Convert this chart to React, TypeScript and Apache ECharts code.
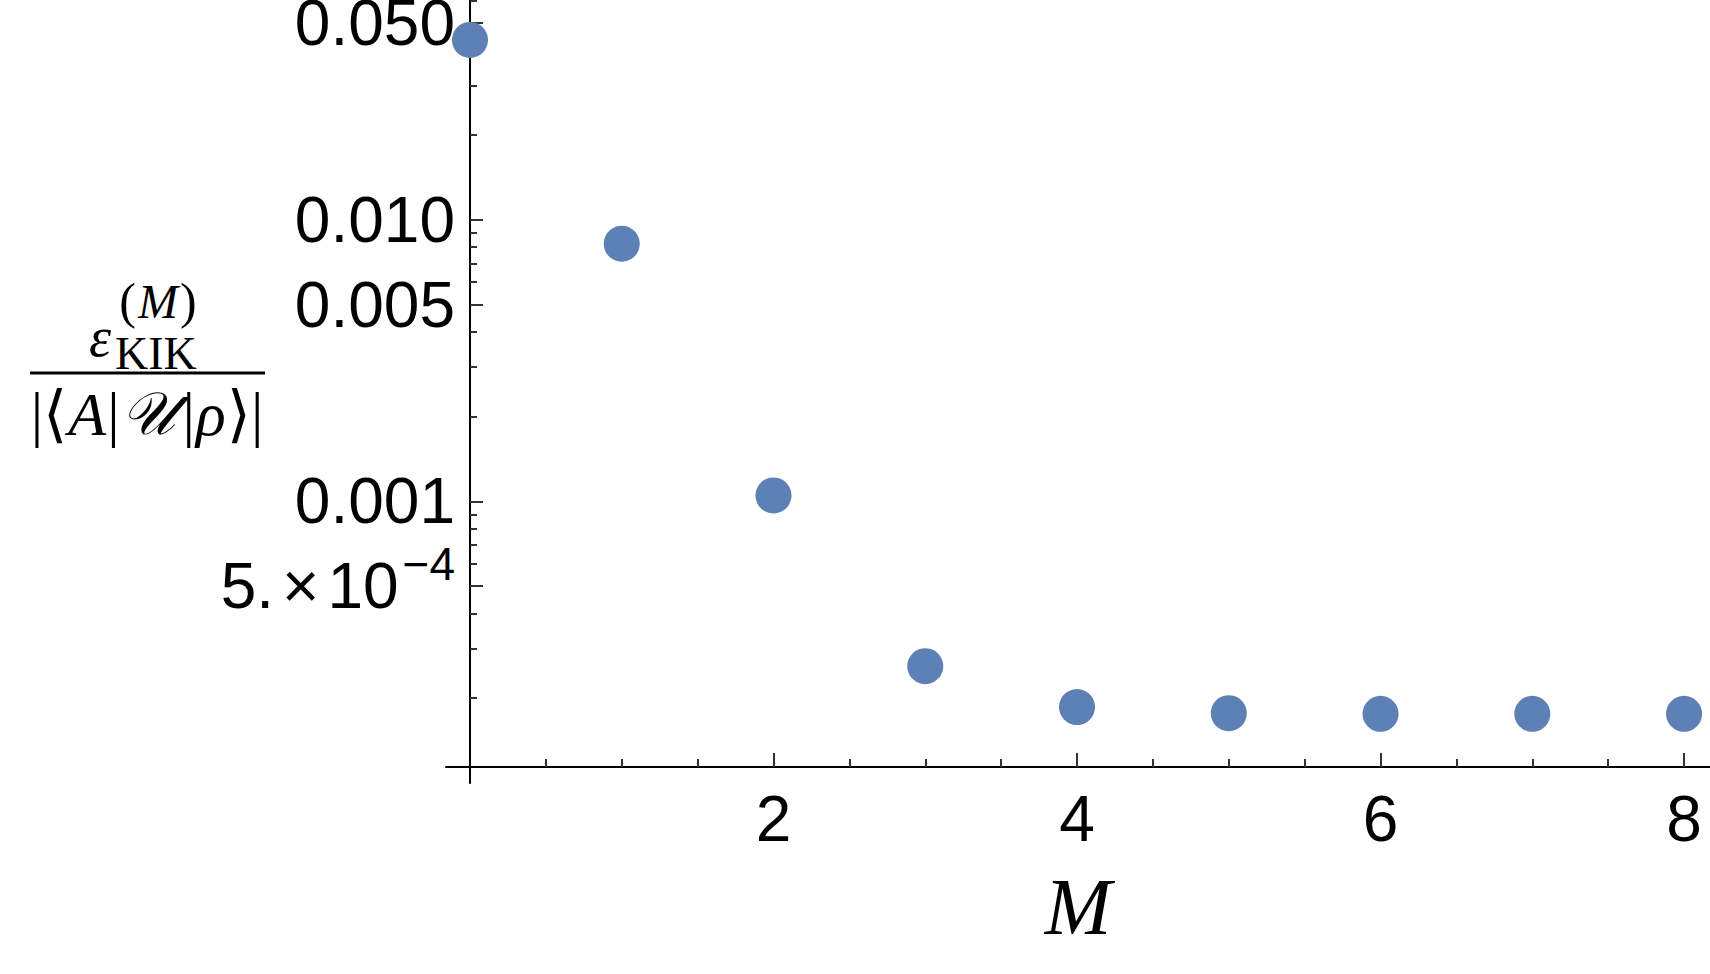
import React, { useEffect, useRef } from "react";
import * as echarts from "echarts";

// ---- data ----
const M_VALUES = [0, 1, 2, 3, 4, 5, 6, 7, 8];
const RATIO_VALUES = [0.0435, 0.00822, 0.00105, 2.6e-4, 1.86e-4, 1.77e-4, 1.76e-4, 1.76e-4, 1.76e-4];

// ---- ticks ----
const X_MAJOR = [2, 4, 6, 8];
const X_MINOR = [0.5, 1, 1.5, 2.5, 3, 3.5, 4.5, 5, 5.5, 6.5, 7, 7.5];
const Y_MAJOR = [5e-4, 0.001, 0.005, 0.01, 0.05];
const Y_MAJOR_LABELS = ["5.×10^-4", "0.001", "0.005", "0.010", "0.050"];
const Y_MINOR = [
  2e-4, 3e-4, 4e-4, 6e-4, 7e-4, 8e-4, 9e-4,
  0.002, 0.003, 0.004, 0.006, 0.007, 0.008, 0.009,
  0.02, 0.03, 0.04, 0.06,
];
const X_RANGE = [-0.158, 8.171];
const Y_RANGE = [1e-4, 0.0603];

const SANS = '"Liberation Sans", Arial, Helvetica, sans-serif';
const SERIF = '"Liberation Serif", "DejaVu Serif", "Times New Roman", serif';

export default function App() {
  const ref = useRef<HTMLDivElement>(null);

  useEffect(() => {
    if (!ref.current) return;
    const chart = echarts.init(ref.current, null, { renderer: "svg" });

    const yFormatter = (value: number) => {
      const i = Y_MAJOR.findIndex((v) => Math.abs(v - value) / v < 1e-6);
      if (i < 0) return "";
      const lab = Y_MAJOR_LABELS[i];
      if (lab.includes("^")) {
        const [base, exp] = lab.split("^");
        const [m, t] = base.split("×");
        return `{a|${m}}{x|×}{a|${t}}{s|${exp.replace("-", "−")}}`;
      }
      return lab;
    };

    const tickLine = { color: "#333", width: 2 };
    const axisLine = { color: "#000", width: 2 };

    const option: any = {
      animation: false,
      backgroundColor: "#ffffff",
      grid: { left: 446, right: 0, top: 0, bottom: 191, containLabel: false, outerBoundsMode: "none" },
      xAxis: [
        {
          type: "value",
          position: "bottom",
          min: X_RANGE[0],
          max: X_RANGE[1],
          offset: -16,
          axisLine: { show: true, onZero: false, lineStyle: axisLine },
          axisTick: { show: true, inside: true, length: 14, lineStyle: tickLine, customValues: X_MAJOR },
          axisLabel: {
            show: true,
            customValues: X_MAJOR,
            margin: 20,
            fontSize: 64,
            fontFamily: SANS,
            color: "#000",
          },
          splitLine: { show: false },
          name: "M",
          nameLocation: "middle",
          nameGap: 100,
          nameTextStyle: { fontFamily: SERIF, fontStyle: "italic", fontSize: 80, color: "#000" },
        },
        {
          type: "value",
          position: "bottom",
          min: X_RANGE[0],
          max: X_RANGE[1],
          offset: -16,
          axisLine: { show: false, onZero: false },
          axisTick: { show: true, inside: true, length: 8, lineStyle: tickLine, customValues: X_MINOR },
          axisLabel: { show: false },
          splitLine: { show: false },
        },
      ],
      yAxis: [
        {
          type: "log",
          position: "left",
          min: Y_RANGE[0],
          max: Y_RANGE[1],
          offset: -24,
          axisLine: { show: true, onZero: false, lineStyle: axisLine },
          axisTick: { show: true, inside: true, length: 13, lineStyle: tickLine, customValues: Y_MAJOR },
          axisLabel: {
            show: true,
            customValues: Y_MAJOR,
            formatter: yFormatter,
            margin: 15,
            fontSize: 64,
            lineHeight: 46,
            fontFamily: SANS,
            color: "#000",
            rich: {
              a: { fontSize: 64, fontFamily: SANS, color: "#000", lineHeight: 90, verticalAlign: "middle" },
              x: { fontSize: 64, fontFamily: SANS, color: "#000", lineHeight: 90, verticalAlign: "middle", padding: [0, 8, 0, 8] },
              s: { fontSize: 46, fontFamily: SANS, color: "#000", lineHeight: 46, verticalAlign: "top", padding: [0, 0, 0, 4] },
            },
          },
          splitLine: { show: false },
          minorTick: { show: false },
        },
        {
          type: "log",
          position: "left",
          min: Y_RANGE[0],
          max: Y_RANGE[1],
          offset: -24,
          axisLine: { show: false, onZero: false },
          axisTick: { show: true, inside: true, length: 7, lineStyle: tickLine, customValues: Y_MINOR },
          axisLabel: { show: false },
          splitLine: { show: false },
        },
      ],
      series: [
        {
          type: "scatter",
          xAxisIndex: 0,
          yAxisIndex: 0,
          symbol: "circle",
          symbolSize: 36,
          clip: false,
          itemStyle: { color: "#5E81B5", opacity: 1 },
          data: M_VALUES.map((m, i) => [m, RATIO_VALUES[i]]),
          z: 5,
        },
      ],
      graphic: [
        {
          type: "text",
          x: 100,
          y: 337,
          style: {
            text: "ε",
            font: `italic 56px ${SERIF}`,
            fill: "#000",
            align: "center",
            verticalAlign: "middle",
          },
        },
        {
          type: "text",
          x: 115,
          y: 353,
          style: {
            text: "KIK",
            font: `46px ${SERIF}`,
            fill: "#000",
            align: "left",
            verticalAlign: "middle",
          },
        },
        {
          type: "text",
          x: 158,
          y: 301,
          style: {
            text: "{n|(}{i|M}{n|)}",
            fill: "#000",
            align: "center",
            verticalAlign: "middle",
            rich: {
              n: { fontFamily: SERIF, fontSize: 50, fill: "#000" },
              i: { fontFamily: SERIF, fontStyle: "italic", fontSize: 48, fill: "#000", padding: [0, 2, 0, 2] },
            },
          },
        },
        {
          type: "line",
          shape: { x1: 30, y1: 373, x2: 265, y2: 373 },
          style: { stroke: "#000", lineWidth: 3 },
        },
        {
          type: "text",
          x: 147,
          y: 414,
          style: {
            text: "{n||⟨}{i|A}{n||}{u|𝒰}{n||}{i|ρ}{n|⟩|}",
            fill: "#000",
            align: "center",
            verticalAlign: "middle",
            rich: {
              n: { fontFamily: SERIF, fontSize: 62, fill: "#000" },
              i: { fontFamily: SERIF, fontStyle: "italic", fontSize: 62, fill: "#000", padding: [0, 1, 0, 1] },
              u: { fontFamily: SERIF, fontStyle: "italic", fontSize: 60, fill: "#000", padding: [0, 8, 0, 1] },
            },
          },
        },
      ],
    };

    chart.setOption(option);
    return () => chart.dispose();
  }, []);

  return (
    <div
      ref={ref}
      style={{ position: "absolute", left: 0, top: 0, width: "1710px", height: "974px", background: "#fff" }}
    />
  );
}
